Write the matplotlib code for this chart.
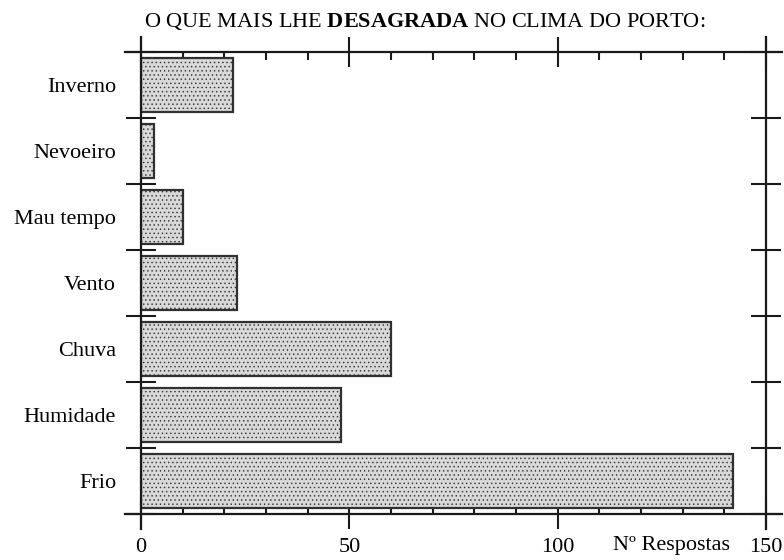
import matplotlib
matplotlib.use("Agg")
import matplotlib.pyplot as plt
import numpy as np

# dados
categorias = ['Inverno', 'Nevoeiro', 'Mau tempo', 'Vento', 'Chuva', 'Humidade', 'Frio']
respostas = [22, 3, 10, 23, 60, 48, 142]
xticks_maj = [0, 50, 100, 150]
xticks_min = [10, 20, 30, 40, 60, 70, 80, 90, 110, 120, 130, 140]

plt.rcParams['font.family'] = 'Liberation Serif'
plt.rcParams['mathtext.fontset'] = 'custom'
plt.rcParams['mathtext.rm'] = 'Liberation Serif'
plt.rcParams['mathtext.bf'] = 'Liberation Serif:bold'
plt.rcParams['hatch.color'] = '#c2c2c2'
plt.rcParams['hatch.linewidth'] = 0.5

fig = plt.figure(figsize=(7.84, 5.6), dpi=100)
W, H = 784, 560
ax = fig.add_axes([141 / W, 1 - 514 / H, (766 - 141) / W, (514 - 52) / H])

y = np.arange(len(categorias))
ax.barh(y, respostas, height=0.82, color='#d8d8d8', edgecolor='#303030', linewidth=1.6,
        hatch='....', zorder=2)
ax.set_xlim(0, 150)
ax.set_ylim(len(categorias) - 0.5, -0.5)

for s in ax.spines.values():
    s.set_visible(False)

# eixos desenhados à mão (prolongados como no original)
lk = dict(color='#1a1a1a', linewidth=1.6, clip_on=False, zorder=3)
ax.axvline(0, ymin=-0.033, ymax=1.033, **lk)
ax.axvline(150, ymin=-0.033, ymax=1.033, **lk)
ax.axhline(-0.5, xmin=-0.026, xmax=1.026, **lk)
ax.axhline(len(categorias) - 0.5, xmin=-0.026, xmax=1.026, **lk)

# eixo x
ax.set_xticks(xticks_maj)
ax.set_xticks(xticks_min, minor=True)
ax.tick_params(axis='x', which='major', direction='inout', length=22, width=1.5,
               top=True, bottom=True, labeltop=False, labelsize=16, pad=6, color='#1a1a1a')
ax.tick_params(axis='x', which='minor', direction='in', length=6, width=1.5,
               top=True, bottom=True, color='#1a1a1a')

# eixo y: rótulos no centro, traços nas fronteiras
ax.set_yticks(y)
ax.set_yticklabels(categorias)
ax.set_yticks(np.arange(len(categorias) + 1) - 0.5, minor=True)
ax.tick_params(axis='y', which='major', length=0, pad=18, labelsize=16)
ax.tick_params(axis='y', which='minor', direction='inout', length=22, width=1.5,
               left=True, right=True, color='#1a1a1a')

ax.annotate('Nº Respostas', xy=(127.4, 0), xycoords=('data', 'axes fraction'),
            xytext=(0, -16), textcoords='offset points', ha='center', va='top', fontsize=16)

fig.text(424.5 / W, 1 - 21 / H, r'O QUE MAIS LHE $\bf{DESAGRADA}$ NO CLIMA DO PORTO:',
         ha='center', va='center', fontsize=16)

fig.savefig('out.png', dpi=100)
